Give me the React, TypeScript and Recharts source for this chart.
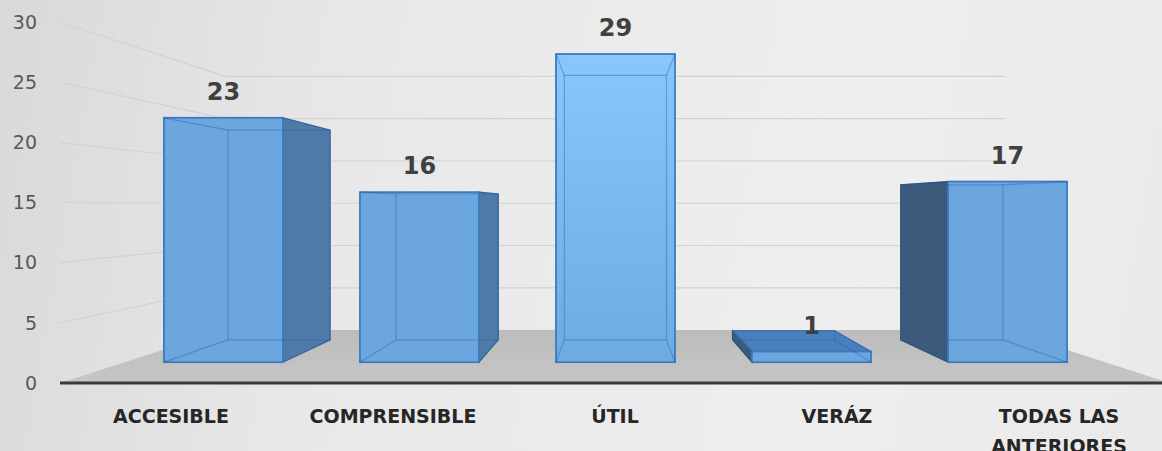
import React from "react";
import { ComposedChart, Bar, Line, XAxis, YAxis, CartesianGrid, LabelList } from "recharts";

const categories = ["ACCESIBLE", "COMPRENSIBLE", "ÚTIL", "VERÁZ", "TODAS LAS ANTERIORES"];
const responses = [23, 16, 29, 1, 17];
const yTicks = [0, 5, 10, 15, 20, 25, 30];

const data = categories.map((name, i) => ({ name, value: responses[i] }));

// fake 3d: everything is scaled toward one vanishing point
const W = 1175;
const H = 451;
const PLOT = { top: 22, bottom: 383, left: 60, right: 1170 };
const VP = { x: (PLOT.left + PLOT.right) / 2, y: 205 };
const FRONT_K = 0.883; // bar fronts vs axis plane
const BACK_K = 0.858; // bar backs vs bar fronts
const WALL_K = 0.7025; // back wall vs axis plane
const BAR_W = 119;

const unitAxis = (PLOT.bottom - PLOT.top) / 30;
const unitFront = unitAxis * FRONT_K;
const frontZero = VP.y + (PLOT.bottom - VP.y) * FRONT_K;
const barMin = -(PLOT.bottom - frontZero) / unitFront;
const barMax = barMin + (PLOT.bottom - PLOT.top) / unitFront;
const barPad = ((PLOT.right - PLOT.left) / 2) * (1 - FRONT_K);

const toward = (x: number, y: number, k: number) => ({
  x: VP.x + (x - VP.x) * k,
  y: VP.y + (y - VP.y) * k,
});
const pts = (list: { x: number; y: number }[]) => list.map((p) => `${p.x},${p.y}`).join(" ");

function WallLine(props: any) {
  const { x1, x2, y1 } = props;
  const bl = toward(x1, y1, WALL_K);
  const br = toward(x2, y1, WALL_K);
  if (Math.abs(y1 - PLOT.bottom) < 0.5) {
    return (
      <polygon
        points={pts([{ x: x1, y: y1 }, bl, br, { x: x2, y: y1 }])}
        fill="url(#floor)"
      />
    );
  }
  return (
    <polyline
      points={pts([{ x: x1, y: y1 }, bl, br])}
      fill="none"
      stroke="#d2d2d2"
      strokeWidth={1.2}
    />
  );
}

function Bar3D(props: any) {
  const { x, y, width, height } = props;
  const x0 = x;
  const x1 = x + width;
  const yt = y;
  const yb = y + height;
  const ftl = { x: x0, y: yt };
  const ftr = { x: x1, y: yt };
  const fbl = { x: x0, y: yb };
  const fbr = { x: x1, y: yb };
  const btl = toward(x0, yt, BACK_K);
  const btr = toward(x1, yt, BACK_K);
  const bbl = toward(x0, yb, BACK_K);
  const bbr = toward(x1, yb, BACK_K);
  const spansCenter = x0 < VP.x && x1 > VP.x;
  const edge = "#3b7bc0";
  const inner = "rgba(40,95,160,0.4)";

  return (
    <g>
      {x1 < VP.x && (
        <polygon points={pts([ftr, btr, bbr, fbr])} fill="#4e7aa8" stroke="#3d6a9c" strokeWidth={1.2} />
      )}
      {x0 > VP.x && (
        <polygon points={pts([ftl, btl, bbl, fbl])} fill="#3d5a7a" stroke="#324d6b" strokeWidth={1.2} />
      )}
      {yt > VP.y && (
        <polygon points={pts([ftl, ftr, btr, btl])} fill="#4a7fbd" stroke="#3b70b0" strokeWidth={1.2} />
      )}
      <rect
        x={x0}
        y={yt}
        width={width}
        height={height}
        fill={spansCenter ? "url(#frontLight)" : "#6ca6de"}
        stroke={edge}
        strokeWidth={1.8}
      />
      {/* back edges seen through the semi transparent front */}
      <polygon points={pts([btl, btr, bbr, bbl])} fill="none" stroke={inner} strokeWidth={1.2} />
      <polyline points={pts([ftl, btl])} fill="none" stroke={inner} strokeWidth={1.2} />
      <polyline points={pts([ftr, btr])} fill="none" stroke={inner} strokeWidth={1.2} />
      <polyline points={pts([fbl, bbl])} fill="none" stroke={inner} strokeWidth={1.2} />
      <polyline points={pts([fbr, bbr])} fill="none" stroke={inner} strokeWidth={1.2} />
    </g>
  );
}

function ValueLabel(props: any) {
  const { x, y, width, value } = props;
  return (
    <text
      x={Number(x) + Number(width) / 2}
      y={Number(y) - 18}
      textAnchor="middle"
      fill="#404040"
      fontFamily="DejaVu Sans"
      fontWeight="bold"
      fontSize={24}
    >
      {value}
    </text>
  );
}

function wrap(text: string, max: number) {
  const lines: string[] = [];
  let cur = "";
  text.split(" ").forEach((w) => {
    if (cur && (cur + " " + w).length > max) {
      lines.push(cur);
      cur = w;
    } else {
      cur = cur ? cur + " " + w : w;
    }
  });
  if (cur) lines.push(cur);
  return lines;
}

function CategoryTick(props: any) {
  const { x, y, payload } = props;
  const lines = wrap(String(payload.value), 12);
  return (
    <text
      x={x}
      y={y}
      textAnchor="middle"
      fill="#262626"
      fontFamily="DejaVu Sans"
      fontWeight="bold"
      fontSize={19}
    >
      {lines.map((l, i) => (
        <tspan key={i} x={x} dy={i === 0 ? 38 : 30}>
          {l}
        </tspan>
      ))}
    </text>
  );
}

export default function App() {
  return (
    <div
      style={{
        position: "fixed",
        left: 0,
        top: 0,
        width: 1162,
        height: H,
        overflow: "hidden",
        background: "linear-gradient(100deg, #d9d9d9 0%, #e8e8e8 30%, #eeeeee 70%, #eaeaea 100%)",
      }}
    >
      <ComposedChart
        width={W}
        height={H}
        data={data}
        margin={{ top: PLOT.top, right: W - PLOT.right, bottom: 8, left: 0 }}
      >
        <defs>
          <linearGradient id="frontLight" x1="0" y1="0" x2="0" y2="1">
            <stop offset="0%" stopColor="#88c6fb" />
            <stop offset="100%" stopColor="#6eaae2" />
          </linearGradient>
          <linearGradient id="floor" x1="0" y1="0" x2="0" y2="1">
            <stop offset="0%" stopColor="#bcbcbc" />
            <stop offset="100%" stopColor="#c6c6c6" />
          </linearGradient>
        </defs>
        <CartesianGrid
          xAxisId="labels"
          yAxisId="ticks"
          vertical={false}
          syncWithTicks
          horizontal={WallLine}
        />
        <YAxis
          yAxisId="ticks"
          type="number"
          domain={[0, 30]}
          ticks={yTicks}
          interval={0}
          width={PLOT.left}
          axisLine={false}
          tickLine={false}
          tickSize={0}
          tickMargin={23}
          tick={{ fill: "#595959", fontSize: 19, fontFamily: "DejaVu Sans" }}
        />
        <YAxis yAxisId="bars" type="number" hide width={0} domain={[barMin, barMax]} allowDataOverflow />
        <XAxis
          xAxisId="labels"
          dataKey="name"
          height={60}
          interval={0}
          tickSize={0}
          tickLine={false}
          axisLine={{ stroke: "#3a3a3a", strokeWidth: 3 }}
          tick={<CategoryTick />}
        />
        <XAxis xAxisId="bars" dataKey="name" hide height={0} padding={{ left: barPad, right: barPad }} />
        {/* invisible series so the front axis gets its scale */}
        <Line
          xAxisId="labels"
          yAxisId="ticks"
          dataKey="value"
          stroke="none"
          dot={false}
          activeDot={false}
          legendType="none"
          isAnimationActive={false}
        />
        <Bar
          xAxisId="bars"
          yAxisId="bars"
          dataKey="value"
          barSize={BAR_W}
          shape={<Bar3D />}
          isAnimationActive={false}
        >
          <LabelList dataKey="value" content={<ValueLabel />} />
        </Bar>
      </ComposedChart>
    </div>
  );
}
